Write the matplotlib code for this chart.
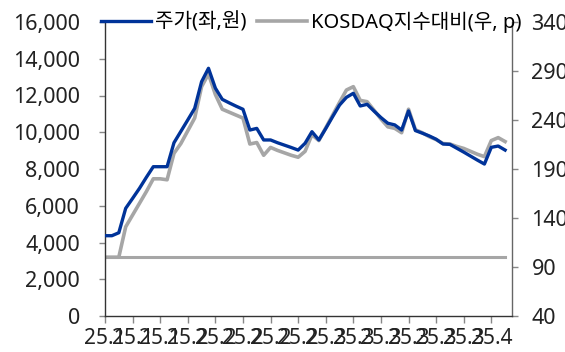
import matplotlib
matplotlib.use("Agg")
import matplotlib.pyplot as plt
from matplotlib.ticker import FuncFormatter, FixedLocator

plt.rcParams['font.family'] = ['Noto Sans', 'Noto Sans CJK KR', 'DejaVu Sans']

# daily closing price (KRW), left axis
price = [4370, 4370, 4530, 5860, 6400, 6950, 7550, 8125, 8125, 8125,
         9430, 10050, 10670, 11300, 12750, 13480, 12400, 11790, 11600, 11420,
         11250, 10120, 10210, 9580, 9580, 9430, 9300, 9170, 9030, 9400,
         10030, 9580, 10200, 10850, 11480, 11900, 12120, 11430, 11520, 11150,
         10800, 10490, 10400, 10120, 11160, 10090, 9950, 9800, 9620, 9360,
         9340, 9130, 8920, 8700, 8480, 8270, 9180, 9250, 9030]

# price relative to KOSDAQ index (start = 100), right axis
rel_kosdaq = [100, 100, 100, 131, 143, 155, 167, 180, 180, 179,
              206, 216, 229, 242, 274, 287, 266, 251, 248, 245,
              242, 215.5, 217, 204, 212, 209, 206.5, 204, 202, 208,
              225, 219, 232, 245, 258, 270.6, 274, 260, 258.7, 250,
              241, 233, 231.5, 227, 251, 230, 227, 223, 220, 216,
              215.5, 213, 211, 208, 205, 202.6, 219, 222, 218]

base_level = 100

tick_pos = list(range(0, 57, 4))
tick_labels = ["25.1", "25.1", "25.1", "25.2", "25.2", "25.2", "25.2", "25.2",
               "25.3", "25.3", "25.3", "25.3", "25.3", "25.3", "25.4"]

BLUE = "#003399"
GRAY = "#A6A6A6"
FS = 15.5

x = list(range(len(price)))

fig = plt.figure(figsize=(5.65, 3.52), dpi=100)
ax = fig.add_axes([105 / 565, 1 - 316 / 352, (512 - 105) / 565, (316 - 22) / 352])
ax2 = ax.twinx()

ax2.plot(x, [base_level] * len(x), color=GRAY, lw=2.2, zorder=1)
l2, = ax2.plot(x, rel_kosdaq, color=GRAY, lw=2.6, zorder=2)
l1, = ax.plot(x, price, color=BLUE, lw=2.4, zorder=3)

# blue line on top of the gray
ax.set_zorder(ax2.get_zorder() + 1)
ax.patch.set_visible(False)

ax.set_xlim(0, 59)
ax.set_ylim(0, 16000)
ax2.set_ylim(40, 340)
ax.set_yticks(range(0, 16001, 2000))
ax2.set_yticks(range(40, 341, 50))
ax.yaxis.set_major_formatter(FuncFormatter(lambda v, p: f"{int(v):,}"))
ax.xaxis.set_major_locator(FixedLocator(tick_pos))
ax.set_xticklabels(tick_labels)

for a in (ax, ax2):
    a.spines['top'].set_visible(False)
    for s in a.spines.values():
        s.set_linewidth(1.0)
        s.set_color("#333333")
ax2.spines['left'].set_visible(False)
ax2.spines['bottom'].set_visible(False)
ax2.spines['right'].set_color("#666666")
ax.spines['right'].set_visible(False)

ax.tick_params(axis='y', direction='out', length=4, width=1, color="#888888",
               labelsize=FS, pad=14, labelcolor="#222222")
ax.tick_params(axis='x', direction='out', length=5, width=1, color="#888888",
               labelsize=15, pad=4, labelcolor="#222222")
ax2.tick_params(axis='y', direction='out', length=4, width=1, color="#888888",
                labelsize=FS, pad=10, labelcolor="#222222")

fig.legend([l1, l2], ["주가(좌,원)", "KOSDAQ지수대비(우, p)"],
           loc='center left', bbox_to_anchor=(101 / 565, 1 - 22 / 352),
           ncol=2, frameon=False, fontsize=14.5, handlelength=2.5,
           handletextpad=0.2, columnspacing=0.5, borderpad=0, borderaxespad=0)

fig.savefig("out.png", dpi=100)
